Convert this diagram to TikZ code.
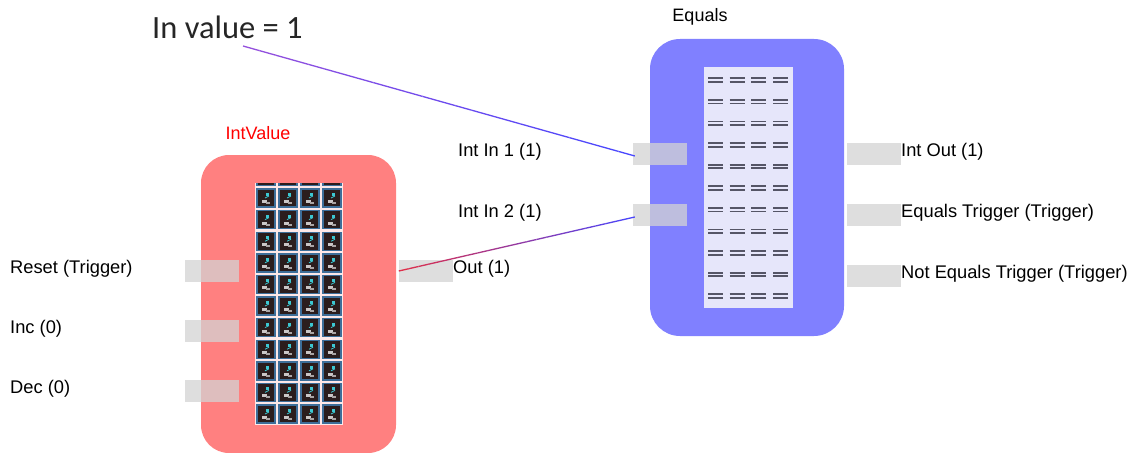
\documentclass[tikz,border=0pt]{standalone}
\usepackage{fontspec}
\setmainfont{Liberation Sans}
\newfontfamily\carlito{Carlito}
\usetikzlibrary{calc}
\definecolor{boxred}{RGB}{255,128,128}
\definecolor{boxblue}{RGB}{128,128,255}
\definecolor{gridpink}{RGB}{253,232,232}
\definecolor{panellav}{RGB}{230,230,250}
\definecolor{portgray}{RGB}{211,211,211}
\definecolor{celldark}{RGB}{43,29,29}
\definecolor{celledge}{RGB}{61,110,153}
\definecolor{cellcyan}{RGB}{60,200,210}
\definecolor{eqbar}{RGB}{85,85,102}
\definecolor{lnred}{RGB}{225,45,70}
\definecolor{lnpurple}{RGB}{150,80,220}
\definecolor{lnblue}{RGB}{70,70,255}
\tikzset{
  redbox/.style={draw=none, fill=boxred, rounded corners=28pt, minimum width=195pt, minimum height=298pt, inner sep=0pt},
  bluebox/.style={draw=none, fill=boxblue, rounded corners=30pt, minimum width=194pt, minimum height=297pt, inner sep=0pt},
  port/.style={draw=none, fill=portgray, fill opacity=0.75, minimum width=54pt, minimum height=22pt, inner sep=0pt},
  lbl/.style={font=\fontsize{18.3}{21}\selectfont, inner sep=0pt, anchor=west, text=black},
  title/.style={font=\fontsize{18}{21}\selectfont, inner sep=0pt},
  cell/.style={fill=celldark, draw=celledge, line width=1.4pt},
}
\newcommand{\gradline}[4]{% from, to, start colour, end colour
  \foreach \k in {0,...,23} {
    \pgfmathsetmacro\ta{\k/24}
    \pgfmathsetmacro\tb{(\k+1)/24}
    \pgfmathtruncatemacro\pc{100*(\k+0.5)/24}
    \draw[line width=1.3pt, color=#4!\pc!#3] ($(#1)!\ta!(#2)$) -- ($(#1)!\tb!(#2)$);
  }
}
\begin{document}
\begin{tikzpicture}[x=1pt,y=-1pt]
\clip (0,0) rectangle (1134,452);
\fill[white] (0,0) rectangle (1134,452);

% title text
\node[font=\carlito\fontsize{32.5}{38}\selectfont, inner sep=0pt, anchor=west, text=black!85] (inval) at (152,27) {In value = 1};
\coordinate (invalend) at (243,46);

% IntValue block
\node[title, text=red] (ivtitle) at (258,133) {IntValue};
\node[redbox] (intvalue) at (298.5,304) {};
\begin{scope}
  \clip (255,183) rectangle (343,425);
  \fill[gridpink] (255,183) rectangle (343,425);
  \foreach \c in {0,...,3} {
    \foreach \r in {-1,...,10} {
      \pgfmathsetmacro\xx{257+22*\c}
      \pgfmathsetmacro\yy{189+21.6*\r}
      \draw[cell] (\xx,\yy) rectangle ++(18,18);
      \fill[cellcyan] (\xx+9,\yy+4) rectangle ++(3,3);
      \draw[cellcyan, line width=0.8pt] (\xx+8,\yy+9) -- (\xx+12,\yy+7);
      \fill[white!75!celldark] (\xx+5,\yy+11) rectangle ++(5,3);
      \fill[white!60!celldark] (\xx+9,\yy+13) rectangle ++(4,2);
    }
  }
\end{scope}

% IntValue ports
\node[port] (reset) at (212,271) {};
\node[port] (inc) at (212,331) {};
\node[port] (dec) at (212,391) {};
\node[port] (out) at (426,271) {};
\node[lbl] (resetl) at (10,269) {Reset (Trigger)};
\node[lbl] (incl) at (10,329) {Inc (0)};
\node[lbl] (decl) at (10,389) {Dec (0)};
\node[lbl] (outl) at (453,269) {Out (1)};

% Equals block
\node[title] (eqtitle) at (700,17) {Equals};
\node[bluebox] (equals) at (747,187.5) {};
\fill[panellav] (704,67) rectangle (793,308);
\foreach \c in {0,...,3} {
  \foreach \r in {0,...,10} {
    \pgfmathsetmacro\xx{708+21.7*\c}
    \pgfmathsetmacro\yy{80+21.6*\r}
    \draw[eqbar, line width=1.8pt] (\xx,\yy-1.8) -- ++(15,0);
    \draw[eqbar, line width=1.8pt] (\xx,\yy+1.8) -- ++(15,0);
  }
}

% Equals ports
\node[port] (in1) at (660,154) {};
\node[port] (in2) at (660,215) {};
\node[port] (iout) at (874,154) {};
\node[port] (eqt) at (874,215) {};
\node[port] (neqt) at (874,276) {};
\node[lbl] (in1l) at (458,152) {Int In 1 (1)};
\node[lbl] (in2l) at (458,213) {Int In 2 (1)};
\node[lbl] (ioutl) at (901,152) {Int Out (1)};
\node[lbl] (eqtl) at (901,213) {Equals Trigger (Trigger)};
\node[lbl] (neqtl) at (901,274) {Not Equals Trigger (Trigger)};

% connectors
\gradline{invalend}{$(in1.west)+(2,2)$}{lnpurple}{lnblue}
\gradline{out.west}{$(in2.west)+(2,2)$}{lnred}{lnblue}
\end{tikzpicture}
\end{document}
